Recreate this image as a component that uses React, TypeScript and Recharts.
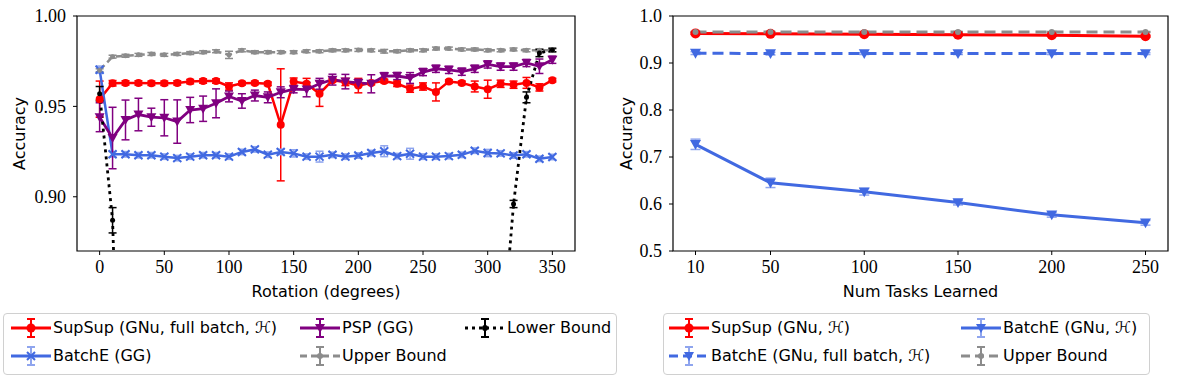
import React from "react";
import { LineChart, Line, XAxis, YAxis, ErrorBar, ReferenceArea } from "recharts";

// ---- left panel: accuracy vs rotation ----
const rotations = [0, 10, 20, 30, 40, 50, 60, 70, 80, 90, 100, 110, 120, 130, 140, 150, 160, 170, 180, 190, 200, 210, 220, 230, 240, 250, 260, 270, 280, 290, 300, 310, 320, 330, 340, 350];
const supsupRot = [0.954, 0.9628, 0.963, 0.963, 0.9628, 0.9628, 0.963, 0.9637, 0.964, 0.964, 0.961, 0.9628, 0.963, 0.9625, 0.9398, 0.9637, 0.9625, 0.957, 0.9645, 0.9635, 0.9615, 0.963, 0.964, 0.9625, 0.9598, 0.961, 0.958, 0.9637, 0.963, 0.961, 0.9595, 0.9625, 0.962, 0.963, 0.9605, 0.9645];
const supsupRotErr = [0.01, 0.0015, 0.0012, 0.0012, 0.0012, 0.0012, 0.0012, 0.0012, 0.0012, 0.0012, 0.002, 0.001, 0.001, 0.001, 0.031, 0.002, 0.003, 0.007, 0.001, 0.002, 0.004, 0.001, 0.001, 0.0015, 0.002, 0.002, 0.005, 0.001, 0.001, 0.003, 0.005, 0.002, 0.002, 0.003, 0.002, 0.001];
const batchERot = [0.9703, 0.9235, 0.9235, 0.923, 0.923, 0.9222, 0.9214, 0.9222, 0.923, 0.923, 0.9222, 0.9248, 0.9262, 0.9233, 0.9248, 0.924, 0.9222, 0.9222, 0.9232, 0.9222, 0.9228, 0.9242, 0.9252, 0.9225, 0.9238, 0.9222, 0.9222, 0.9225, 0.9232, 0.9255, 0.9242, 0.924, 0.9228, 0.9235, 0.921, 0.922];
const batchERotErr = [0.002, 0.0015, 0.0015, 0.0015, 0.0015, 0.0015, 0.0015, 0.0015, 0.0015, 0.0015, 0.0015, 0.0015, 0.0015, 0.0015, 0.0015, 0.002, 0.0015, 0.003, 0.0015, 0.0015, 0.0015, 0.0015, 0.003, 0.0015, 0.003, 0.0015, 0.0015, 0.0015, 0.0015, 0.0015, 0.002, 0.0015, 0.0015, 0.0015, 0.0015, 0.0015];
const pspRot = [0.944, 0.9325, 0.9425, 0.9455, 0.944, 0.9437, 0.9416, 0.948, 0.9487, 0.9517, 0.9555, 0.953, 0.956, 0.955, 0.9578, 0.9595, 0.9593, 0.9625, 0.9648, 0.9637, 0.963, 0.9625, 0.9667, 0.9668, 0.9657, 0.969, 0.9708, 0.9702, 0.9692, 0.9708, 0.9732, 0.972, 0.972, 0.974, 0.9722, 0.9758];
const pspRotErr = [0.008, 0.017, 0.011, 0.009, 0.005, 0.01, 0.012, 0.007, 0.007, 0.008, 0.003, 0.004, 0.003, 0.003, 0.003, 0.002, 0.004, 0.003, 0.003, 0.004, 0.002, 0.005, 0.002, 0.002, 0.003, 0.002, 0.002, 0.002, 0.002, 0.002, 0.002, 0.002, 0.002, 0.002, 0.004, 0.002];
const upperRot = [0.97, 0.9775, 0.978, 0.9785, 0.979, 0.9785, 0.979, 0.9795, 0.98, 0.9805, 0.9785, 0.981, 0.98, 0.98, 0.98, 0.98, 0.9805, 0.9805, 0.981, 0.981, 0.9812, 0.981, 0.9805, 0.9805, 0.981, 0.981, 0.982, 0.982, 0.9815, 0.9815, 0.981, 0.981, 0.9815, 0.981, 0.981, 0.981];
const upperRotErr = [0.0008, 0.0008, 0.0008, 0.0008, 0.0008, 0.0008, 0.0008, 0.0008, 0.0008, 0.0008, 0.002, 0.0008, 0.0008, 0.0008, 0.0008, 0.0008, 0.0008, 0.0008, 0.0008, 0.0008, 0.0008, 0.0008, 0.001, 0.0008, 0.0008, 0.0008, 0.0008, 0.0008, 0.0008, 0.0008, 0.0008, 0.0008, 0.0008, 0.0008, 0.0008, 0.0008];
const lowerRot = [0.957, 0.887, 0.66, 0.48, 0.36, 0.29, 0.25, 0.22, 0.2, 0.19, 0.19, 0.2, 0.21, 0.22, 0.23, 0.24, 0.25, 0.26, 0.27, 0.27, 0.27, 0.26, 0.25, 0.24, 0.24, 0.25, 0.28, 0.33, 0.41, 0.52, 0.66, 0.81, 0.896, 0.955, 0.9795, 0.9812];
const lowerRotErr = [0.004, 0.007, 0.01, 0.01, 0.01, 0.01, 0.01, 0.01, 0.01, 0.01, 0.01, 0.01, 0.01, 0.01, 0.01, 0.01, 0.01, 0.01, 0.01, 0.01, 0.01, 0.01, 0.01, 0.01, 0.01, 0.01, 0.01, 0.01, 0.01, 0.01, 0.01, 0.01, 0.002, 0.003, 0.002, 0.001];
const rotTicks = [0, 50, 100, 150, 200, 250, 300, 350];
const rotAccTicks = [0.9, 0.95, 1.0];

// ---- right panel: accuracy vs number of tasks ----
const numTasks = [10, 50, 100, 150, 200, 250];
const supsupTasks = [0.963, 0.962, 0.961, 0.96, 0.959, 0.957];
const supsupTasksErr = [0.002, 0.002, 0.002, 0.002, 0.002, 0.002];
const batchEFullTasks = [0.921, 0.92, 0.92, 0.92, 0.92, 0.92];
const batchEFullTasksErr = [0.003, 0.003, 0.002, 0.002, 0.002, 0.002];
const batchETasks = [0.727, 0.645, 0.626, 0.603, 0.577, 0.56];
const batchETasksErr = [0.011, 0.01, 0.007, 0.005, 0.005, 0.005];
const upperTasks = [0.966, 0.966, 0.966, 0.966, 0.966, 0.966];
const upperTasksErr = [0.001, 0.001, 0.001, 0.001, 0.001, 0.001];
const taskTicks = [10, 50, 100, 150, 200, 250];
const taskAccTicks = [0.5, 0.6, 0.7, 0.8, 0.9, 1.0];

const RED = "#ff0000";
const BLUE = "#4169e1";
const PURPLE = "#800080";
const GRAY = "#8c8c8c";
const BLACK = "#000000";

const rotData = rotations.map((r, i) => ({
  r,
  supsup: supsupRot[i], supsupErr: supsupRotErr[i],
  batchE: batchERot[i], batchEErr: batchERotErr[i],
  psp: pspRot[i], pspErr: pspRotErr[i],
  upper: upperRot[i], upperErr: upperRotErr[i],
  lower: lowerRot[i], lowerErr: lowerRotErr[i],
}));

const taskData = numTasks.map((n, i) => ({
  n,
  supsup: supsupTasks[i], supsupErr: supsupTasksErr[i],
  batchEFull: batchEFullTasks[i], batchEFullErr: batchEFullTasksErr[i],
  batchE: batchETasks[i], batchEErr: batchETasksErr[i],
  upper: upperTasks[i], upperErr: upperTasksErr[i],
}));

type Shape = "circle" | "tri" | "x" | "dot";

function marker(shape: Shape, cx: number, cy: number, color: string, s: number, key?: any) {
  if (cx == null || cy == null || isNaN(cx) || isNaN(cy)) return <g key={key} />;
  if (shape === "circle") return <circle key={key} cx={cx} cy={cy} r={s} fill={color} />;
  if (shape === "dot") return <circle key={key} cx={cx} cy={cy} r={s} fill={color} />;
  if (shape === "tri")
    return (
      <path key={key} d={`M${cx - s},${cy - s * 0.8} L${cx + s},${cy - s * 0.8} L${cx},${cy + s} Z`} fill={color} />
    );
  return (
    <path
      key={key}
      d={`M${cx - s},${cy - s} L${cx + s},${cy + s} M${cx - s},${cy + s} L${cx + s},${cy - s}`}
      stroke={color}
      strokeWidth={2}
      fill="none"
    />
  );
}

const dotFn = (shape: Shape, color: string, s: number) => (p: any) => marker(shape, p.cx, p.cy, color, s, p.index);

const serifTick = { fill: "#000", fontSize: 18, fontFamily: "Liberation Serif, serif" };
const sans = "DejaVu Sans, sans-serif";

const XTitle = (x: number, text: string) => () => (
  <text x={x} y={297} textAnchor="middle" fontFamily={sans} fontSize={16} fill="#000">
    {text}
  </text>
);
const YTitle = (x: number) => () => (
  <text x={x} y={133.5} transform={`rotate(-90, ${x}, 133.5)`} textAnchor="middle" fontFamily={sans} fontSize={16} fill="#000">
    Accuracy
  </text>
);

function Handle({ color, dash, shape, size, errColor, lw = 3 }: { color: string; dash?: string; shape: Shape; size: number; errColor?: string; lw?: number }) {
  const ec = errColor ?? color;
  return (
    <svg width={40} height={26} style={{ position: "absolute", left: 0, top: -13 }}>
      <line x1={0} y1={13} x2={40} y2={13} stroke={color} strokeWidth={lw} strokeDasharray={dash} />
      <line x1={20} y1={4} x2={20} y2={22} stroke={ec} strokeWidth={2} />
      <line x1={16} y1={4} x2={24} y2={4} stroke={ec} strokeWidth={2} />
      <line x1={16} y1={22} x2={24} y2={22} stroke={ec} strokeWidth={2} />
      {marker(shape, 20, 13, color, size)}
    </svg>
  );
}

type Item = { label: string; x: number; y: number; color: string; dash?: string; shape: Shape; size: number; errColor?: string };

const leftLegend: Item[] = [
  { label: "SupSup (GNu, full batch, \u210B)", x: 7, y: 14, color: RED, shape: "circle", size: 4.5 },
  { label: "BatchE (GG)", x: 7, y: 42, color: BLUE, shape: "x", size: 4, errColor: "#8fa5ee" },
  { label: "PSP (GG)", x: 296, y: 14, color: PURPLE, shape: "tri", size: 5 },
  { label: "Upper Bound", x: 296, y: 42, color: GRAY, dash: "7 4", shape: "dot", size: 3 },
  { label: "Lower Bound", x: 461, y: 14, color: BLACK, dash: "3 4", shape: "dot", size: 3 },
];
const rightLegend: Item[] = [
  { label: "SupSup (GNu, \u210B)", x: 5, y: 14, color: RED, shape: "circle", size: 4.5 },
  { label: "BatchE (GNu, full batch, \u210B)", x: 5, y: 42, color: BLUE, dash: "9 5", shape: "tri", size: 5, errColor: "#8fa5ee" },
  { label: "BatchE (GNu, \u210B)", x: 297, y: 14, color: BLUE, shape: "tri", size: 5, errColor: "#8fa5ee" },
  { label: "Upper Bound", x: 297, y: 42, color: GRAY, dash: "9 5", shape: "dot", size: 3 },
];

function LegendBox({ left, width, items }: { left: number; width: number; items: Item[] }) {
  return (
    <div
      style={{
        position: "absolute",
        left,
        top: 313,
        width,
        height: 62,
        border: "1px solid #d0d0d0",
        borderRadius: 4,
        boxSizing: "border-box",
        background: "#fff",
      }}
    >
      {items.map((it) => (
        <div key={it.label} style={{ position: "absolute", left: it.x, top: it.y }}>
          <Handle color={it.color} dash={it.dash} shape={it.shape} size={it.size} errColor={it.errColor} />
          <span
            style={{
              position: "absolute",
              left: 42,
              top: -10,
              whiteSpace: "nowrap",
              fontFamily: sans,
              fontSize: 16,
              lineHeight: "20px",
              color: "#000",
            }}
          >
            {it.label}
          </span>
        </div>
      ))}
    </div>
  );
}

export default function App() {
  return (
    <div style={{ position: "absolute", left: 0, top: 0, width: 1179, height: 378, background: "#fff" }}>
      <div style={{ position: "absolute", left: 0, top: 0 }}>
        <LineChart width={590} height={310} data={rotData} margin={{ top: 16, right: 15, bottom: 9, left: 0 }}>
          <XAxis
            dataKey="r"
            type="number"
            domain={[-17.5, 367.5]}
            ticks={rotTicks}
            height={50}
            tick={serifTick}
            tickSize={4}
            tickMargin={5}
            tickLine={{ stroke: "#000" }}
            axisLine={false}
            label={XTitle(326, "Rotation (degrees)")}
          />
          <YAxis
            type="number"
            domain={[0.87, 1.0]}
            ticks={rotAccTicks}
            allowDataOverflow
            width={77}
            tick={serifTick}
            tickSize={4}
            tickMargin={7}
            tickLine={{ stroke: "#000" }}
            axisLine={false}
            tickFormatter={(v: number) => v.toFixed(2)}
            label={YTitle(25)}
          />
          <ReferenceArea x1={-17.5} x2={367.5} y1={0.87} y2={1.0} fill="#fff" fillOpacity={0} stroke="#000" strokeWidth={1.2} />
          <Line dataKey="supsup" stroke={RED} strokeWidth={2.5} dot={dotFn("circle", RED, 4)} isAnimationActive={false}>
            <ErrorBar dataKey="supsupErr" direction="y" width={4} stroke={RED} strokeWidth={1.5} />
          </Line>
          <Line dataKey="batchE" stroke={BLUE} strokeWidth={2.5} dot={dotFn("x", BLUE, 4)} isAnimationActive={false}>
            <ErrorBar dataKey="batchEErr" direction="y" width={4} stroke="#8fa5ee" strokeWidth={1.5} />
          </Line>
          <Line dataKey="psp" stroke={PURPLE} strokeWidth={2.8} dot={dotFn("tri", PURPLE, 5)} isAnimationActive={false}>
            <ErrorBar dataKey="pspErr" direction="y" width={4} stroke={PURPLE} strokeWidth={1.5} />
          </Line>
          <Line dataKey="upper" stroke={GRAY} strokeWidth={2.5} strokeDasharray="7 4" dot={dotFn("dot", GRAY, 2.5)} isAnimationActive={false}>
            <ErrorBar dataKey="upperErr" direction="y" width={4} stroke={GRAY} strokeWidth={1.5} />
          </Line>
          <Line dataKey="lower" stroke={BLACK} strokeWidth={2.8} strokeDasharray="3 4" dot={dotFn("dot", BLACK, 2.5)} isAnimationActive={false}>
            <ErrorBar dataKey="lowerErr" direction="y" width={4} stroke={BLACK} strokeWidth={1.5} />
          </Line>
        </LineChart>
      </div>
      <div style={{ position: "absolute", left: 590, top: 0 }}>
        <LineChart width={589} height={310} data={taskData} margin={{ top: 16, right: 11, bottom: 9, left: 0 }}>
          <XAxis
            dataKey="n"
            type="number"
            domain={[-2, 262]}
            ticks={taskTicks}
            height={50}
            tick={serifTick}
            tickSize={4}
            tickMargin={5}
            tickLine={{ stroke: "#000" }}
            axisLine={false}
            label={XTitle(330.5, "Num Tasks Learned")}
          />
          <YAxis
            type="number"
            domain={[0.5, 1.0]}
            ticks={taskAccTicks}
            width={83}
            tick={serifTick}
            tickSize={4}
            tickMargin={7}
            tickLine={{ stroke: "#000" }}
            axisLine={false}
            tickFormatter={(v: number) => v.toFixed(1)}
            label={YTitle(42)}
          />
          <ReferenceArea x1={-2} x2={262} y1={0.5} y2={1.0} fill="#fff" fillOpacity={0} stroke="#000" strokeWidth={1.2} />
          <Line dataKey="supsup" stroke={RED} strokeWidth={3} dot={dotFn("circle", RED, 5)} isAnimationActive={false}>
            <ErrorBar dataKey="supsupErr" direction="y" width={5} stroke={RED} strokeWidth={1.5} />
          </Line>
          <Line dataKey="batchEFull" stroke={BLUE} strokeWidth={3} strokeDasharray="11 6" dot={dotFn("tri", BLUE, 5.5)} isAnimationActive={false}>
            <ErrorBar dataKey="batchEFullErr" direction="y" width={5} stroke="#8fa5ee" strokeWidth={1.5} />
          </Line>
          <Line dataKey="batchE" stroke={BLUE} strokeWidth={3} dot={dotFn("tri", BLUE, 5.5)} isAnimationActive={false}>
            <ErrorBar dataKey="batchEErr" direction="y" width={5} stroke="#8fa5ee" strokeWidth={1.5} />
          </Line>
          <Line dataKey="upper" stroke={GRAY} strokeWidth={3} strokeDasharray="11 6" dot={dotFn("dot", GRAY, 3)} isAnimationActive={false}>
            <ErrorBar dataKey="upperErr" direction="y" width={5} stroke={GRAY} strokeWidth={1.5} />
          </Line>
        </LineChart>
      </div>
      <LegendBox left={3} width={614} items={leftLegend} />
      <LegendBox left={663} width={487} items={rightLegend} />
    </div>
  );
}
